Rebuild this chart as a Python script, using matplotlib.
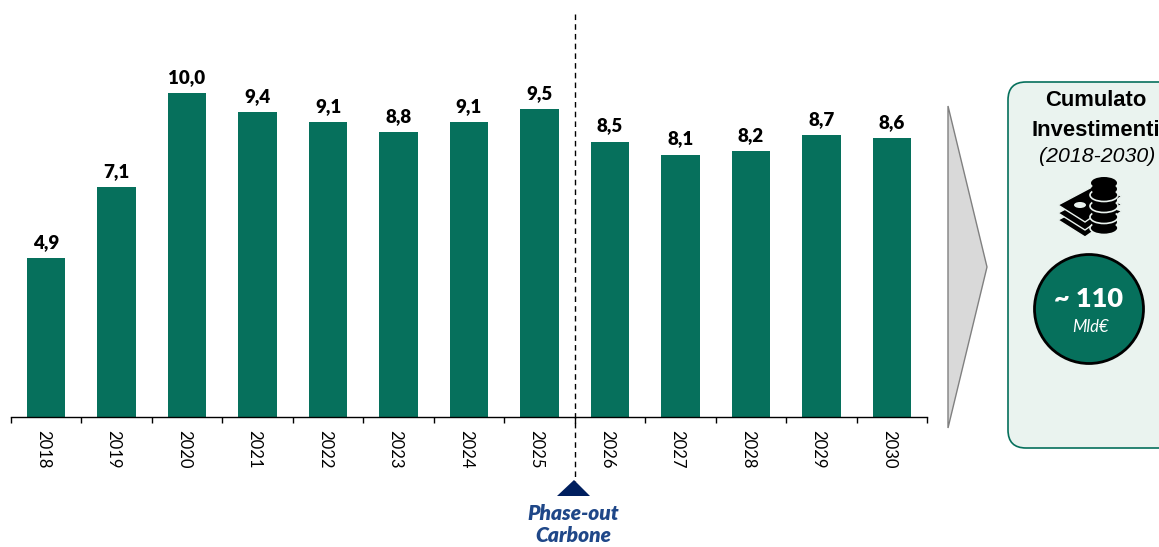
"""Investment bars 2018-2030 with the cumulated box on the right."""
import matplotlib
matplotlib.use("Agg")
import matplotlib.pyplot as plt
from matplotlib.patches import Circle, Ellipse, FancyBboxPatch, Polygon
from matplotlib.transforms import ScaledTranslation

years = ['2018', '2019', '2020', '2021', '2022', '2023', '2024',
         '2025', '2026', '2027', '2028', '2029', '2030']
values = [4.9, 7.1, 10.0, 9.4, 9.1, 8.8, 9.1, 9.5, 8.5, 8.1, 8.2, 8.7, 8.6]

GREEN = '#06705C'
NAVY = '#001F5F'
BOX = '#EAF3EF'
W, H = 1159, 547

fig = plt.figure(figsize=(W / 100, H / 100), dpi=100)

# Bars, pixel box of the axes
ax = fig.add_axes([10.75 / W, (H - 417) / H, (927.25 - 10.75) / W, 417 / H])
x = list(range(len(values)))
ax.bar(x, values, width=0.54, color=GREEN)
for xi, val in zip(x, values):
    ax.text(xi, val + 0.22, '{:.1f}'.format(val).replace('.', ','), ha='center',
            va='bottom', fontsize=13.5, fontweight='heavy', family='Lato', color='black')

ax.set_xlim(-0.5, 12.5)
ax.set_ylim(0, 417 / 32.4)
ax.patch.set_alpha(0)
for side in ['top', 'right', 'left']:
    ax.spines[side].set_visible(False)
ax.spines['bottom'].set_linewidth(1.0)
ax.set_yticks([])

# Ticks sit between the bars, labels under the bars
ax.set_xticks([i - 0.5 for i in range(len(values) + 1)])
ax.set_xticklabels([])
ax.tick_params(axis='x', which='major', length=4, width=1.0)
ax.set_xticks(x, minor=True)
ax.set_xticklabels(years, minor=True, rotation=270, fontsize=12, family='Lato')
ax.tick_params(axis='x', which='minor', length=0, pad=9)

# The year labels sit a little left of the bar centres
shift = ScaledTranslation(-3 / 100, 0, fig.dpi_scale_trans)
for lab in ax.get_xticklabels(minor=True):
    lab.set_transform(lab.get_transform() + shift)

# Everything else is drawn in pixel coordinates on a full-figure overlay
over = fig.add_axes([0, 0, 1, 1])
over.set_xlim(0, W)
over.set_ylim(H, 0)
over.axis('off')
over.patch.set_alpha(0)

# Phase-out marker
over.plot([575, 575], [14, 481], color='black', lw=1.0, dashes=(4, 3))
over.add_patch(Polygon([(557, 496), (574, 480), (590, 496)], color=NAVY, lw=0))
over.text(573, 514, 'Phase-out', ha='center', va='center', fontsize=15, style='italic',
          fontweight='heavy', family='Lato', color='#1F4788')
over.text(573, 536, 'Carbone', ha='center', va='center', fontsize=15, style='italic',
          fontweight='heavy', family='Lato', color='#1F4788')

# Grey arrow
over.add_patch(Polygon([(948, 106), (987, 267), (948, 428)], facecolor='#D9D9D9',
                       edgecolor='#808080', lw=1.0))

# Box running off the right edge
over.add_patch(FancyBboxPatch((1026, 100), 200, 330, boxstyle='round,pad=18,rounding_size=18',
                              facecolor=BOX, edgecolor=GREEN, lw=1.2))
over.text(1096, 101, 'Cumulato', ha='center', va='center', fontsize=15.8, fontweight='bold',
          family='Liberation Sans', color='black')
over.text(1096, 131, 'Investimenti', ha='center', va='center', fontsize=15.8, fontweight='bold',
          family='Liberation Sans', color='black', clip_on=True)
over.text(1097, 157, '(2018-2030)', ha='center', va='center', fontsize=15.3, style='italic',
          family='Liberation Sans', color='black')

# Banknotes icon, bottom layer first
for dy in [15, 8, 0]:
    over.add_patch(Polygon([(1058, 205 + dy), (1092, 187 + dy), (1122, 196 + dy),
                            (1085, 222 + dy)], facecolor='black', edgecolor=BOX,
                           lw=1.0, zorder=3))
over.add_patch(Ellipse((1080, 205), 12, 6, facecolor=BOX, edgecolor='none', zorder=4))

# Coin stack: white rim on the lower edge of each coin only
for cy in [216, 205, 194, 183]:
    over.add_patch(Ellipse((1104, cy + 12), 28, 13, facecolor='black', edgecolor=BOX,
                           lw=1.2, zorder=5))
    over.add_patch(Ellipse((1104, cy + 6), 26, 12, facecolor='black', edgecolor='none', zorder=5))
    over.add_patch(Ellipse((1104, cy), 26, 12, facecolor='black', edgecolor='none', zorder=5))

# Total circle
over.add_patch(Circle((1089, 309), 54.5, facecolor=GREEN, edgecolor='black', lw=2, zorder=3))
over.text(1089, 299, '~ 110', ha='center', va='center', fontsize=19.5, fontweight='heavy',
          family='Lato', color='white', zorder=4)
over.text(1090, 327, 'Mld€', ha='center', va='center', fontsize=12, style='italic',
          family='Lato', color='white', zorder=4)

fig.savefig('out.png', dpi=100)
